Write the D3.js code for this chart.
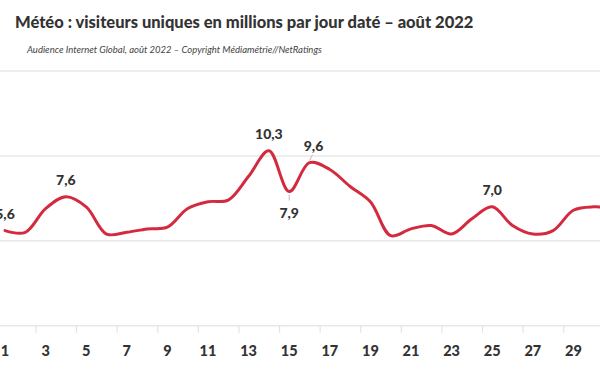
<!DOCTYPE html>
<html>
<head>
<meta charset="utf-8">
<script src="https://cdn.jsdelivr.net/npm/d3@7"></script>
<style>
  body { margin: 0; background: #fff; }
  text { font-family: Lato, "Open Sans", sans-serif; }
</style>
</head>
<body>
<div id="chart"></div>
<script>
const days = d3.range(1, 32);
const visitors = [5.6, 5.5, 6.9, 7.6, 7.0, 5.4, 5.5, 5.7, 5.8, 6.9, 7.3, 7.4, 8.8, 10.3, 7.9, 9.6,
  9.2, 8.2, 7.3, 5.3, 5.7, 5.9, 5.4, 6.3, 7.0, 5.9, 5.4, 5.6, 6.8, 7.0, 6.9];
const tickLabels = [1, 3, 5, 7, 9, 11, 13, 15, 17, 19, 21, 23, 25, 27, 29];
const gridValues = [0, 5, 10, 15];
const labelDays = [1, 4, 14, 15, 16, 25];
const labelBelowDays = [15];

const title = "Météo : visiteurs uniques en millions par jour daté – août 2022";
const subtitle = "Audience Internet Global, août 2022 – Copyright Médiamétrie//NetRatings";

const w = 600;
const h = 372;

const x = d3.scaleLinear().domain([1, 31]).range([5, 614]);
const y = d3.scaleLinear().domain([0, 15]).range([325.7, 71]);

const fmt = (v) => v.toFixed(1).replace(".", ",");

const svg = d3.select("#chart")
  .append("svg")
  .attr("width", w)
  .attr("height", h);

svg.append("text")
  .attr("x", 15)
  .attr("y", 28)
  .text(title)
  .style("font-size", "16.5px")
  .style("font-weight", 900)
  .style("fill", "#333");

svg.append("text")
  .attr("x", 27)
  .attr("y", 53)
  .text(subtitle)
  .style("font-size", "9.5px")
  .style("font-style", "italic")
  .style("fill", "#444");

// horizontal grid
svg.append("g")
  .selectAll("line")
  .data(gridValues)
  .enter()
  .append("line")
  .attr("x1", 0)
  .attr("x2", w)
  .attr("y1", (d) => y(d))
  .attr("y2", (d) => y(d))
  .style("stroke", "#e8e8e8")
  .style("stroke-width", 1.5);

// x axis: ticks sit between labels, labels on odd days
const xAxis = d3.axisBottom(x)
  .tickValues(tickLabels.map((d) => d - 0.5))
  .tickSize(7)
  .tickFormat("");

svg.append("g")
  .attr("id", "x-axis")
  .attr("transform", `translate(0, ${y(0)})`)
  .call(xAxis)
  .call((g) => g.select(".domain").remove())
  .call((g) => g.selectAll(".tick line").style("stroke", "#e3e3e3").style("stroke-width", 1.2));

svg.append("g")
  .selectAll("text")
  .data(tickLabels)
  .enter()
  .append("text")
  .attr("x", (d) => x(d))
  .attr("y", 356)
  .attr("text-anchor", "middle")
  .text((d) => d)
  .style("font-size", "14.5px")
  .style("font-weight", 900)
  .style("fill", "#333");

const line = d3.line()
  .x((d, i) => x(days[i]))
  .y((d) => y(d))
  .curve(d3.curveCatmullRom.alpha(0.5));

svg.append("path")
  .datum(visitors)
  .attr("d", line)
  .style("fill", "none")
  .style("stroke", "#d42a3f")
  .style("stroke-width", 3)
  .style("stroke-linecap", "round");

// value labels
const labels = labelDays.map((d) => ({ day: d, value: visitors[d - 1], below: labelBelowDays.includes(d) }));

svg.append("g")
  .selectAll("line")
  .data(labels.filter((d) => d.below || d.day === 16))
  .enter()
  .append("line")
  .attr("x1", (d) => x(d.day))
  .attr("y1", (d) => y(d.value) + (d.below ? 3 : -2))
  .attr("x2", (d) => x(d.day) + (d.below ? 0 : 3))
  .attr("y2", (d) => y(d.value) + (d.below ? 9 : -8))
  .style("stroke", "#bbb")
  .style("stroke-width", 1);

svg.append("g")
  .selectAll("text")
  .data(labels)
  .enter()
  .append("text")
  .attr("x", (d) => x(d.day) + (d.day === 16 ? 4 : 0))
  .attr("y", (d) => y(d.value) + (d.below ? 26 : -12))
  .attr("text-anchor", "middle")
  .text((d) => fmt(d.value))
  .style("font-size", "14px")
  .style("font-weight", 900)
  .style("fill", "#333");
</script>
</body>
</html>
